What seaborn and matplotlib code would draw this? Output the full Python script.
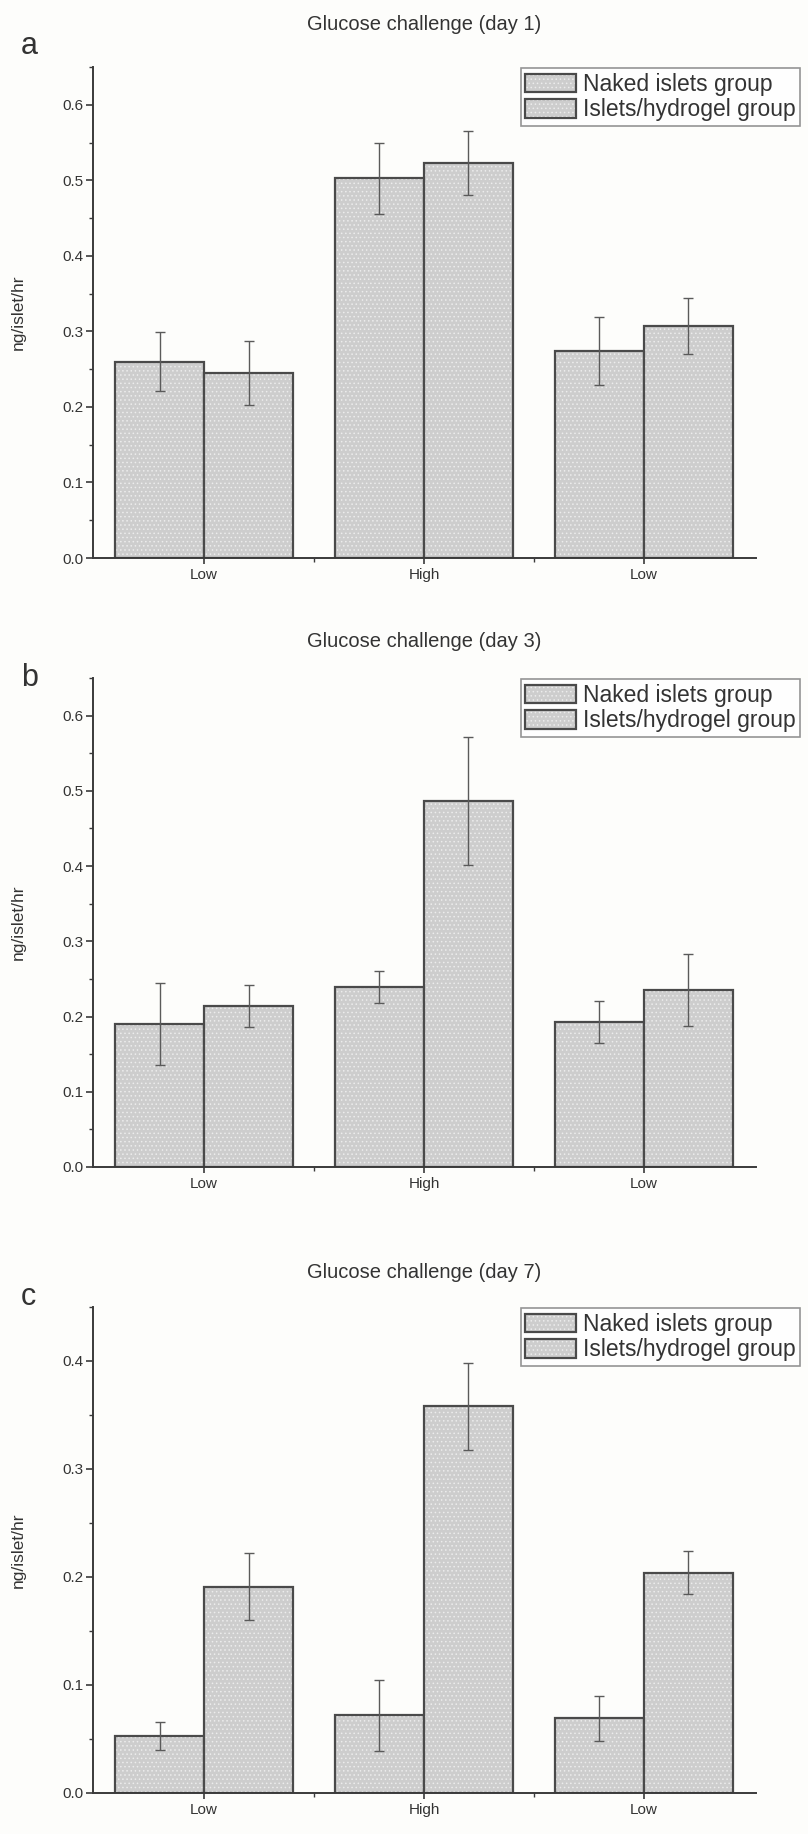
import numpy as np
import pandas as pd
import matplotlib
matplotlib.use("Agg")
import matplotlib.pyplot as plt
import matplotlib.colors as mcolors
import seaborn as sns
from matplotlib.ticker import MultipleLocator, FixedLocator, FormatStrFormatter

# ---- data ----
conditions = ["Low (before)", "High", "Low (after)"]
tick_labels = ["Low", "High", "Low"]
groups = ["Naked islets group", "Islets/hydrogel group"]
titles = ["Glucose challenge (day 1)", "Glucose challenge (day 3)", "Glucose challenge (day 7)"]
panel_letters = ["a", "b", "c"]

day1_naked = [0.260, 0.503, 0.274]
day1_hydrogel = [0.245, 0.523, 0.307]
day1_naked_err = [0.039, 0.047, 0.045]
day1_hydrogel_err = [0.042, 0.042, 0.037]

day3_naked = [0.190, 0.239, 0.193]
day3_hydrogel = [0.214, 0.486, 0.235]
day3_naked_err = [0.055, 0.021, 0.028]
day3_hydrogel_err = [0.028, 0.085, 0.048]

day7_naked = [0.053, 0.072, 0.069]
day7_hydrogel = [0.191, 0.358, 0.204]
day7_naked_err = [0.013, 0.033, 0.021]
day7_hydrogel_err = [0.031, 0.040, 0.020]

y_max = [0.65, 0.65, 0.45]

panels = [
    (day1_naked, day1_hydrogel, day1_naked_err, day1_hydrogel_err),
    (day3_naked, day3_hydrogel, day3_naked_err, day3_hydrogel_err),
    (day7_naked, day7_hydrogel, day7_naked_err, day7_hydrogel_err),
]

# ---- style ----
sns.set_theme(style="ticks")
plt.rcParams['font.family'] = ['Liberation Sans', 'DejaVu Sans']
plt.rcParams['hatch.linewidth'] = 0.6

W, H = 808, 1834
fig = plt.figure(figsize=(W / 100, H / 100), dpi=100)
bg = '#fdfdfb'
fig.patch.set_facecolor(bg)

fill = '#cdcdcd'
edge = '#4a4a4a'
hatch_col = mcolors.to_rgba('#ececec')
axis_col = '#3a3a3a'
text_col = '#333333'

# axes rectangles in pixels: (left, top, right, bottom)
px_rects = [(93, 67, 756, 558), (93, 678, 756, 1167), (93, 1307, 756, 1793)]
letter_y = [46, 678, 1297]
title_y = [24, 642, 1272]

for i, (naked, hyd, nerr, herr) in enumerate(panels):
    l, t, r, b = px_rects[i]
    ax = fig.add_axes([l / W, 1 - b / H, (r - l) / W, (b - t) / H])
    ax.set_facecolor(bg)
    df = pd.DataFrame({
        "condition": conditions * 2,
        "group": [groups[0]] * 3 + [groups[1]] * 3,
        "value": list(naked) + list(hyd),
    })
    sns.barplot(data=df, x="condition", y="value", hue="group",
                order=conditions, hue_order=groups,
                palette=[fill, fill], saturation=1, width=0.81,
                edgecolor=edge, linewidth=1.6, errorbar=None,
                legend=False, ax=ax)
    for cont, errs in zip(ax.containers, [nerr, herr]):
        xs = [p.get_x() + p.get_width() / 2 for p in cont]
        ys = [p.get_height() for p in cont]
        for p in cont:
            p.set_hatch('....')
            p._hatch_color = hatch_col
        ax.errorbar(xs, ys, yerr=errs, fmt='none', ecolor='#5a5a5a',
                    elinewidth=1.0, capsize=3.5, capthick=1.0, zorder=5)

    ax.set_xlim(-0.505, 2.51)
    ax.set_ylim(0, y_max[i])
    ax.set_xticks([0, 1, 2])
    ax.set_xticklabels(tick_labels)
    ax.xaxis.set_minor_locator(FixedLocator([0.5, 1.5]))
    ax.yaxis.set_major_locator(MultipleLocator(0.1))
    ax.yaxis.set_minor_locator(MultipleLocator(0.05))
    ax.yaxis.set_major_formatter(FormatStrFormatter('%.1f'))
    ax.tick_params(axis='x', which='major', direction='inout', length=9,
                   width=1.2, color=axis_col, labelsize=11, labelcolor=text_col, pad=3)
    ax.tick_params(axis='x', which='minor', direction='out', length=3,
                   width=1.0, color=axis_col)
    ax.tick_params(axis='y', which='major', direction='out', length=5,
                   width=1.2, color=axis_col, labelsize=11, labelcolor=text_col, pad=1.5)
    ax.tick_params(axis='y', which='minor', direction='out', length=3,
                   width=1.0, color=axis_col)
    sns.despine(ax=ax)
    for s in ['left', 'bottom']:
        ax.spines[s].set_color(axis_col)
        ax.spines[s].set_linewidth(1.4)
    ax.set_xlabel('')
    ax.set_ylabel('ng/islet/hr', fontsize=12.5, color=text_col)
    ax.yaxis.set_label_coords((26 - l) / (r - l), 0.5)

    fig.text(((l + r) / 2) / W, 1 - title_y[i] / H, titles[i], fontsize=14.5,
             color=text_col, ha='center', va='center')

    handles = [cont.patches[0] for cont in ax.containers[:2]]
    leg = ax.legend(handles, groups, loc='upper right',
                    bbox_to_anchor=(800 / W, 1 - (t + 1) / H),
                    bbox_transform=fig.transFigure,
                    fontsize=16.5, frameon=True, fancybox=False,
                    edgecolor='#7a7a7a', borderpad=0.2, labelspacing=0.12,
                    handlelength=2.2, handleheight=0.85, handletextpad=0.3,
                    borderaxespad=0)
    leg.get_frame().set_linewidth(1.2)
    leg.get_frame().set_facecolor('white')
    for txt in leg.get_texts():
        txt.set_color(text_col)
    for hp in leg.get_patches():
        hp._hatch_color = hatch_col

    fig.text(21 / W, 1 - letter_y[i] / H, panel_letters[i], fontsize=22,
             color=text_col, ha='left', va='center')

fig.savefig('out.png', dpi=100, facecolor=fig.get_facecolor())
